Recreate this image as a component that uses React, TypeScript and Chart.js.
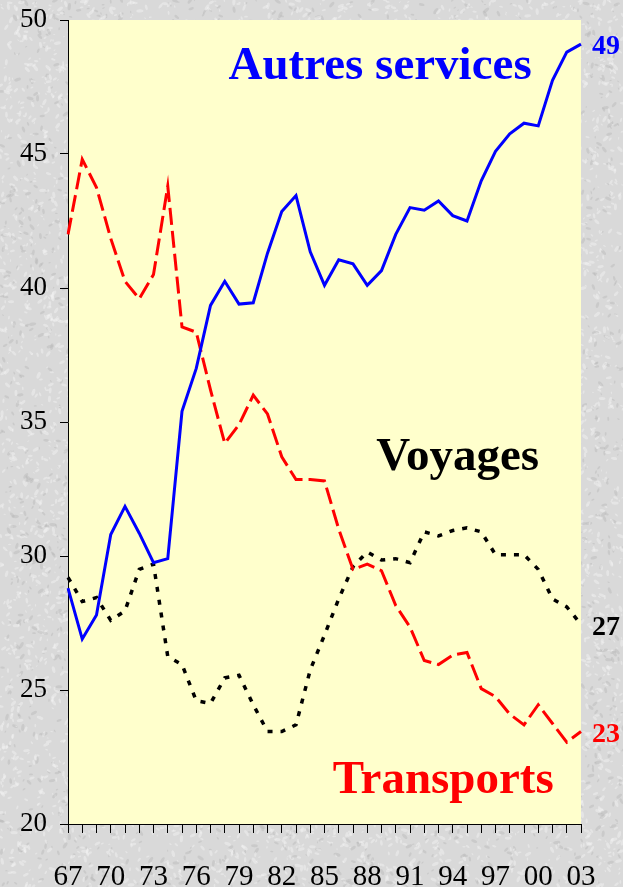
import React, { useEffect, useRef } from "react";
import { Chart, registerables } from "chart.js";

Chart.register(...registerables);

const years = [
  "67", "68", "69", "70", "71", "72", "73", "74", "75", "76",
  "77", "78", "79", "80", "81", "82", "83", "84", "85", "86",
  "87", "88", "89", "90", "91", "92", "93", "94", "95", "96",
  "97", "98", "99", "00", "01", "02", "03",
];

const autresServices = [
  28.8, 26.9, 27.8, 30.8, 31.85, 30.85, 29.75, 29.9, 35.4, 37.0,
  39.35, 40.25, 39.4, 39.45, 41.3, 42.85, 43.45, 41.35, 40.1, 41.05,
  40.9, 40.1, 40.65, 42.0, 43.0, 42.9, 43.25, 42.7, 42.5, 44.0,
  45.1, 45.75, 46.15, 46.05, 47.75, 48.8, 49.1,
];

const transports = [
  42.0, 44.8, 43.75, 41.85, 40.25, 39.6, 40.5, 43.8, 38.55, 38.35,
  36.2, 34.2, 34.9, 36.0, 35.3, 33.7, 32.85, 32.85, 32.8, 31.0,
  29.5, 29.7, 29.45, 28.15, 27.35, 26.1, 25.95, 26.3, 26.4, 25.05,
  24.75, 24.1, 23.7, 24.45, 23.75, 23.05, 23.45,
];

const voyages = [
  29.2, 28.3, 28.45, 27.6, 27.95, 29.5, 29.7, 26.25, 25.95, 24.6,
  24.5, 25.45, 25.55, 24.45, 23.45, 23.45, 23.7, 25.75, 27.05, 28.4,
  29.6, 30.15, 29.85, 29.9, 29.75, 30.9, 30.75, 30.95, 31.05, 30.9,
  30.05, 30.05, 30.05, 29.5, 28.4, 28.1, 27.45,
];

const yMin = 20;
const yMax = 50;
const yStep = 5;
const labelEvery = 3;

const seriesNames = ["Autres services", "Transports", "Voyages"];
const seriesColors = ["#0000FF", "#FF0000", "#000000"];
const endLabels = ["49", "23", "27"];

const SERIF = "'Liberation Serif', 'Times New Roman', serif";

function hash(n: number): number {
  const s = Math.sin(n * 12.9898 + 78.233) * 43758.5453;
  return s - Math.floor(s);
}

const backgroundPlugin = {
  id: "pageBackground",
  beforeDraw(chart: any) {
    const { ctx, width, height, chartArea } = chart;
    ctx.save();
    ctx.fillStyle = "#d9d9d9";
    ctx.fillRect(0, 0, width, height);
    for (let i = 0; i < 12000; i++) {
      const x = hash(i) * width;
      const y = hash(i + 100000) * height;
      const r = 0.8 + hash(i + 200000) * 2.0;
      const light = hash(i + 300000);
      ctx.fillStyle = light > 0.3 ? "rgba(245,245,245,0.45)" : "rgba(180,180,180,0.4)";
      ctx.beginPath();
      ctx.ellipse(x, y, r * 1.3, r * 0.6, hash(i + 400000) * Math.PI, 0, Math.PI * 2);
      ctx.fill();
    }
    ctx.fillStyle = "#FFFFCC";
    ctx.fillRect(chartArea.left, chartArea.top, chartArea.right - chartArea.left, chartArea.bottom - chartArea.top);
    ctx.restore();
  },
};

const annotationPlugin = {
  id: "annotations",
  afterDatasetsDraw(chart: any) {
    const { ctx } = chart;
    const xs = chart.scales.x;
    const ys = chart.scales.y;
    ctx.save();
    ctx.font = `bold 47px ${SERIF}`;
    ctx.textAlign = "center";
    ctx.textBaseline = "alphabetic";
    ctx.fillStyle = seriesColors[0];
    ctx.fillText(seriesNames[0], xs.getPixelForValue(21.9), ys.getPixelForValue(47.8));
    ctx.fillStyle = seriesColors[2];
    ctx.fillText(seriesNames[2], xs.getPixelForValue(27.35), ys.getPixelForValue(33.2));
    ctx.fillStyle = seriesColors[1];
    ctx.fillText(seriesNames[1], xs.getPixelForValue(26.33), ys.getPixelForValue(21.15));

    ctx.font = `bold 28px ${SERIF}`;
    ctx.textAlign = "left";
    ctx.textBaseline = "middle";
    chart.data.datasets.forEach((ds: any, i: number) => {
      const last = ds.data.length - 1;
      const px = xs.getPixelForValue(last) + 11;
      const py = ys.getPixelForValue(ds.data[last]) + 3;
      ctx.fillStyle = seriesColors[i];
      ctx.fillText(endLabels[i], px, py);
    });
    ctx.restore();
  },
};

export default function App() {
  const ref = useRef<HTMLCanvasElement | null>(null);

  useEffect(() => {
    if (!ref.current) return;
    const chart = new Chart(ref.current, {
      type: "line",
      data: {
        labels: years,
        datasets: [
          {
            label: seriesNames[0],
            data: autresServices,
            borderColor: seriesColors[0],
            borderWidth: 3,
            pointRadius: 0,
            tension: 0,
            fill: false,
          },
          {
            label: seriesNames[1],
            data: transports,
            borderColor: seriesColors[1],
            borderWidth: 3,
            borderDash: [17, 6],
            pointRadius: 0,
            tension: 0,
            fill: false,
          },
          {
            label: seriesNames[2],
            data: voyages,
            borderColor: seriesColors[2],
            borderWidth: 3.5,
            borderDash: [5, 8],
            pointRadius: 0,
            tension: 0,
            fill: false,
          },
        ],
      },
      options: {
        responsive: false,
        animation: false,
        events: [],
        layout: { padding: { top: 20, right: 42, left: 0, bottom: 0 } },
        plugins: {
          legend: { display: false },
          tooltip: { enabled: false },
        },
        scales: {
          x: {
            type: "category",
            offset: false,
            grid: {
              drawOnChartArea: false,
              drawTicks: true,
              tickLength: 9,
              color: "#000",
              lineWidth: 1,
            },
            border: { display: true, color: "#000", width: 1 },
            ticks: {
              autoSkip: false,
              maxRotation: 0,
              minRotation: 0,
              padding: 27,
              color: "#000",
              font: { family: SERIF, size: 29 },
              callback: (_v: any, i: number) => (i % labelEvery === 0 ? years[i] : ""),
            },
            afterFit: (s: any) => {
              s.height = 63;
              s.paddingLeft = 0;
              s.paddingRight = 0;
            },
          },
          y: {
            min: yMin,
            max: yMax,
            grid: {
              drawOnChartArea: false,
              drawTicks: true,
              tickLength: 8,
              color: "#000",
              lineWidth: 1,
            },
            border: { display: true, color: "#000", width: 1 },
            ticks: {
              stepSize: yStep,
              padding: 13,
              color: "#000",
              font: { family: SERIF, size: 27 },
            },
            afterFit: (s: any) => {
              s.width = 68;
              s.paddingTop = 0;
              s.paddingBottom = 0;
            },
          },
        },
      },
      plugins: [backgroundPlugin, annotationPlugin],
    } as any);
    return () => chart.destroy();
  }, []);

  return (
    <div style={{ position: "fixed", left: 0, top: 0, width: 623, height: 887 }}>
      <canvas ref={ref} width={623} height={887} style={{ display: "block", width: 623, height: 887 }} />
    </div>
  );
}
